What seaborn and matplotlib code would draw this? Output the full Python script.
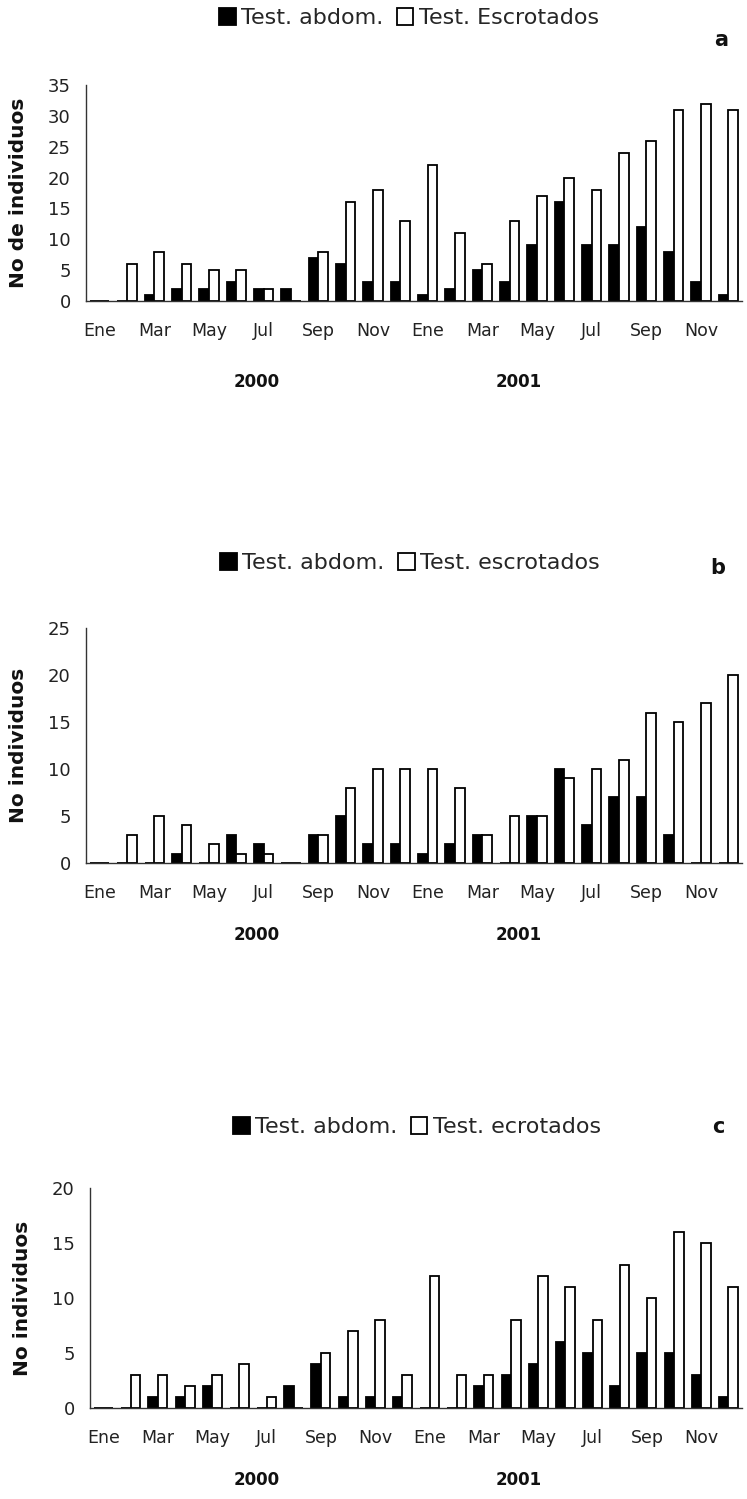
import numpy as np
import pandas as pd
import matplotlib
matplotlib.use("Agg")
import matplotlib.pyplot as plt
import seaborn as sns

# ---------------- data ----------------
month_names = ["Ene", "Feb", "Mar", "Abr", "May", "Jun",
               "Jul", "Ago", "Sep", "Oct", "Nov", "Dic"]
months = [f"{m} {y}" for y in (2000, 2001) for m in month_names]
tick_labels = ["Ene", "Mar", "May", "Jul", "Sep", "Nov"] * 2
year_labels = ["2000", "2001"]
series = ["abdom", "escrot"]

a_abdom = [0, 0, 1, 2, 2, 3, 2, 2, 7, 6, 3, 3,
           1, 2, 5, 3, 9, 16, 9, 9, 12, 8, 3, 1]
a_escrot = [0, 6, 8, 6, 5, 5, 2, 0, 8, 16, 18, 13,
            22, 11, 6, 13, 17, 20, 18, 24, 26, 31, 32, 31]

b_abdom = [0, 0, 0, 1, 0, 3, 2, 0, 3, 5, 2, 2,
           1, 2, 3, 0, 5, 10, 4, 7, 7, 3, 0, 0]
b_escrot = [0, 3, 5, 4, 2, 1, 1, 0, 3, 8, 10, 10,
            10, 8, 3, 5, 5, 9, 10, 11, 16, 15, 17, 20]

c_abdom = [0, 0, 1, 1, 2, 0, 0, 2, 4, 1, 1, 1,
           0, 0, 2, 3, 4, 6, 5, 2, 5, 5, 3, 1]
c_escrot = [0, 3, 3, 2, 3, 4, 1, 0, 5, 7, 8, 3,
            12, 3, 3, 8, 12, 11, 8, 13, 10, 16, 15, 11]

legend_a = ["Test. abdom.", "Test. Escrotados"]
legend_b = ["Test. abdom.", "Test. escrotados"]
legend_c = ["Test. abdom.", "Test. ecrotados"]

# ---------------- style ----------------
sns.set_theme(style="white")
plt.rcParams["font.family"] = ["DejaVu Sans"]

W, H = 747, 1499
fig = plt.figure(figsize=(W / 100, H / 100), dpi=100)

panels = [
    dict(abd=a_abdom, esc=a_escrot, ymax=35, left=86, right=742, top=85, bottom=301,
         ylabel="No de individuos", leg=legend_a, leg_xy=(409, 18),
         letter="a", letter_xy=(721, 40), years_y=382, ylab_x=28),
    dict(abd=b_abdom, esc=b_escrot, ymax=25, left=86, right=742, top=628, bottom=863,
         ylabel="No individuos", leg=legend_b, leg_xy=(410, 563),
         letter="b", letter_xy=(718, 568), years_y=935, ylab_x=28),
    dict(abd=c_abdom, esc=c_escrot, ymax=20, left=90, right=742, top=1188, bottom=1408,
         ylabel="No individuos", leg=legend_c, leg_xy=(417, 1127),
         letter="c", letter_xy=(718, 1127), years_y=1480, ylab_x=32),
]

for p in panels:
    ax = fig.add_axes([p["left"] / W, 1 - p["bottom"] / H,
                       (p["right"] - p["left"]) / W, (p["bottom"] - p["top"]) / H])
    df = pd.DataFrame({
        "mes": months * 2,
        "serie": [series[0]] * 24 + [series[1]] * 24,
        "n": list(p["abd"]) + list(p["esc"]),
    })
    sns.barplot(data=df, x="mes", y="n", hue="serie", order=months, hue_order=series,
                palette={"abdom": "black", "escrot": "white"}, saturation=1,
                edgecolor="black", linewidth=1.3, width=0.7, errorbar=None,
                legend=True, ax=ax)
    handles, _ = ax.get_legend_handles_labels()
    ax.get_legend().remove()

    ax.set_xlim(-0.5, 23.5)
    ax.set_ylim(0, p["ymax"])
    ax.set_yticks(range(0, p["ymax"] + 1, 5))
    ax.set_xticks(range(0, 24, 2))
    ax.set_xticklabels(tick_labels)
    ax.tick_params(axis="both", length=0, colors="#222222")
    ax.tick_params(axis="y", labelsize=13, pad=11)
    ax.tick_params(axis="x", labelsize=12.5, pad=15)
    ax.set_xlabel("")
    ax.set_ylabel(p["ylabel"], fontsize=14.5, fontweight="bold", color="#111111")
    ax.yaxis.set_label_coords((p["ylab_x"] - p["left"]) / (p["right"] - p["left"]), 0.5)
    for s in ("top", "right"):
        ax.spines[s].set_visible(False)
    for s in ("left", "bottom"):
        ax.spines[s].set_color("#333333")
        ax.spines[s].set_linewidth(1.0)

    fig.text(257 / W, 1 - p["years_y"] / H, year_labels[0], ha="center", va="center",
             fontsize=12, fontweight="bold", color="#111111")
    fig.text(519 / W, 1 - p["years_y"] / H, year_labels[1], ha="center", va="center",
             fontsize=12, fontweight="bold", color="#111111")

    fig.legend(handles, p["leg"], loc="center",
               bbox_to_anchor=(p["leg_xy"][0] / W, 1 - p["leg_xy"][1] / H),
               ncol=2, frameon=False, fontsize=16, handlelength=0.75,
               handleheight=0.8, handletextpad=0.25, columnspacing=0.6,
               borderpad=0, borderaxespad=0)

    fig.text(p["letter_xy"][0] / W, 1 - p["letter_xy"][1] / H, p["letter"],
             ha="center", va="center", fontsize=15, fontweight="bold", color="#111111")

fig.savefig("out.png", dpi=100, facecolor="white")
